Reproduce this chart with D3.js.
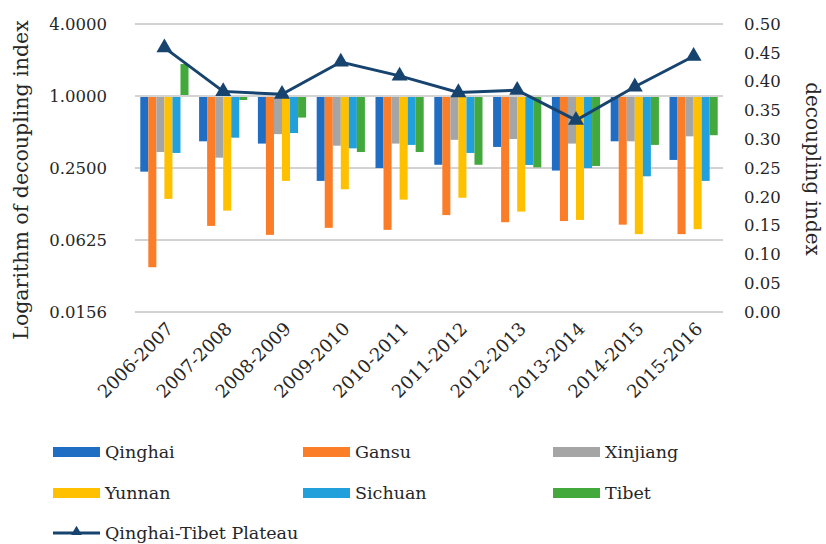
<!DOCTYPE html>
<html>
<head>
<meta charset="utf-8">
<script src="https://cdn.jsdelivr.net/npm/d3@7"></script>
<style>
  body { margin: 0; background: #fff; }
  text { font-family: "DejaVu Serif", serif; fill: #262626; }
</style>
</head>
<body>
<div id="chart"></div>
<script>
const periods = ["2006-2007","2007-2008","2008-2009","2009-2010","2010-2011",
                 "2011-2012","2012-2013","2013-2014","2014-2015","2015-2016"];
const provinces = ["Qinghai","Gansu","Xinjiang","Yunnan","Sichuan","Tibet"];

// decoupling index per province (left, log2 axis)
const qinghai  = [0.233,0.418,0.400,0.195,0.250,0.266,0.375,0.238,0.418,0.292];
const gansu    = [0.037,0.082,0.069,0.079,0.076,0.101,0.088,0.090,0.084,0.070];
const xinjiang = [0.340,0.305,0.480,0.384,0.400,0.430,0.437,0.400,0.418,0.460];
const yunnan   = [0.138,0.110,0.195,0.166,0.136,0.141,0.108,0.092,0.070,0.077];
const sichuan  = [0.334,0.448,0.490,0.365,0.390,0.334,0.265,0.250,0.213,0.195];
const tibet    = [1.850,0.926,0.660,0.340,0.340,0.266,0.253,0.260,0.390,0.470];

// plateau decoupling index (right axis)
const plateau  = [0.459,0.383,0.378,0.434,0.410,0.381,0.385,0.333,0.391,0.444];

const leftTicks  = [4, 1, 0.25, 0.0625, 0.015625];
const rightTicks = d3.range(0, 0.501, 0.05);

const series = [qinghai, gansu, xinjiang, yunnan, sichuan, tibet];
const colors = ["#1f6ec4","#fb7d27","#a5a5a5","#ffc000","#21a0db","#44a93d"];
const lineColor = "#17436f";

const width = 826, height = 544;
const margin = {top: 24, right: 103, bottom: 232, left: 135};

const svg = d3.select("#chart").append("svg")
  .attr("width", width).attr("height", height);

const x0 = d3.scaleBand().domain(periods)
  .range([margin.left, width - margin.right])
  .paddingInner(0.18).paddingOuter(0.09);
const x1 = d3.scaleBand().domain(provinces).range([0, x0.bandwidth()]);

const yLeft = d3.scaleLog().base(2).domain([0.015625, 4])
  .range([height - margin.bottom, margin.top]);
const yRight = d3.scaleLinear().domain([0, 0.5])
  .range([height - margin.bottom, margin.top]);

// gridlines
svg.append("g").selectAll("line")
  .data(leftTicks.filter(d => d !== 1))
  .join("line")
  .attr("x1", margin.left).attr("x2", width - margin.right)
  .attr("y1", d => yLeft(d)).attr("y2", d => yLeft(d))
  .attr("stroke", "#a6a6a6").attr("stroke-width", 1);

// bars, from 1.0 baseline
const groups = svg.append("g").selectAll("g")
  .data(periods)
  .join("g")
  .attr("transform", d => `translate(${x0(d)},0)`);

groups.selectAll("rect")
  .data((p, i) => provinces.map((name, k) => ({name, k, v: series[k][i]})))
  .join("rect")
  .attr("x", d => x1(d.name))
  .attr("width", x1.bandwidth())
  .attr("y", d => Math.min(yLeft(d.v), yLeft(1)))
  .attr("height", d => Math.abs(yLeft(d.v) - yLeft(1)))
  .attr("fill", d => colors[d.k]);

// baseline at 1.0
svg.append("line")
  .attr("x1", margin.left).attr("x2", width - margin.right)
  .attr("y1", yLeft(1)).attr("y2", yLeft(1))
  .attr("stroke", "#d4d4d4").attr("stroke-width", 2);

// line series
const cx = d => x0(d) + x0.bandwidth() / 2;
svg.append("path")
  .datum(periods)
  .attr("fill", "none")
  .attr("stroke", lineColor)
  .attr("stroke-width", 3)
  .attr("d", d3.line().x(d => cx(d)).y((d, i) => yRight(plateau[i])));

const tri = d3.symbol().type(d3.symbolTriangle).size(110);
svg.append("g").selectAll("path")
  .data(periods)
  .join("path")
  .attr("d", tri)
  .attr("transform", (d, i) => `translate(${cx(d)},${yRight(plateau[i])})`)
  .attr("fill", lineColor);

// left axis labels
svg.append("g").selectAll("text")
  .data(leftTicks)
  .join("text")
  .attr("x", 107).attr("y", d => yLeft(d))
  .attr("dy", "0.35em")
  .attr("text-anchor", "end")
  .attr("font-size", 16.5)
  .text(d => d3.format(".4f")(d));

// right axis labels
svg.append("g").selectAll("text")
  .data(rightTicks)
  .join("text")
  .attr("x", 744).attr("y", d => yRight(d))
  .attr("dy", "0.35em")
  .attr("font-size", 16.5)
  .text(d => d3.format(".2f")(d));

// x labels
svg.append("g").selectAll("text")
  .data(periods)
  .join("text")
  .attr("transform", d => `translate(${cx(d) + 10},${height - margin.bottom + 18}) rotate(-45)`)
  .attr("text-anchor", "end")
  .attr("font-size", 18)
  .text(d => d);

// axis titles
svg.append("text")
  .attr("transform", `translate(28,${(margin.top + height - margin.bottom) / 2 + 12}) rotate(-90)`)
  .attr("text-anchor", "middle")
  .attr("font-size", 20.5)
  .text("Logarithm of decoupling index");

svg.append("text")
  .attr("transform", `translate(806,${(margin.top + height - margin.bottom) / 2 + 1}) rotate(90)`)
  .attr("text-anchor", "middle")
  .attr("font-size", 20)
  .text("decoupling index");

// legend
const legX = [53, 303, 553];
const legY = [452, 493];
const legend = svg.append("g");
provinces.forEach((name, k) => {
  const lx = legX[k % 3], ly = legY[Math.floor(k / 3)];
  legend.append("rect")
    .attr("x", lx).attr("y", ly - 5)
    .attr("width", 47).attr("height", 10)
    .attr("fill", colors[k]);
  legend.append("text")
    .attr("x", lx + 52).attr("y", ly)
    .attr("dy", "0.35em")
    .attr("font-size", 17.5)
    .text(name);
});

legend.append("line")
  .attr("x1", 53).attr("x2", 100)
  .attr("y1", 533).attr("y2", 533)
  .attr("stroke", lineColor).attr("stroke-width", 3);
legend.append("path")
  .attr("d", d3.symbol().type(d3.symbolTriangle).size(50))
  .attr("transform", "translate(76.5,532)")
  .attr("fill", lineColor);
legend.append("text")
  .attr("x", 105).attr("y", 533)
  .attr("dy", "0.35em")
  .attr("font-size", 17.5)
  .text("Qinghai-Tibet Plateau");
</script>
</body>
</html>
